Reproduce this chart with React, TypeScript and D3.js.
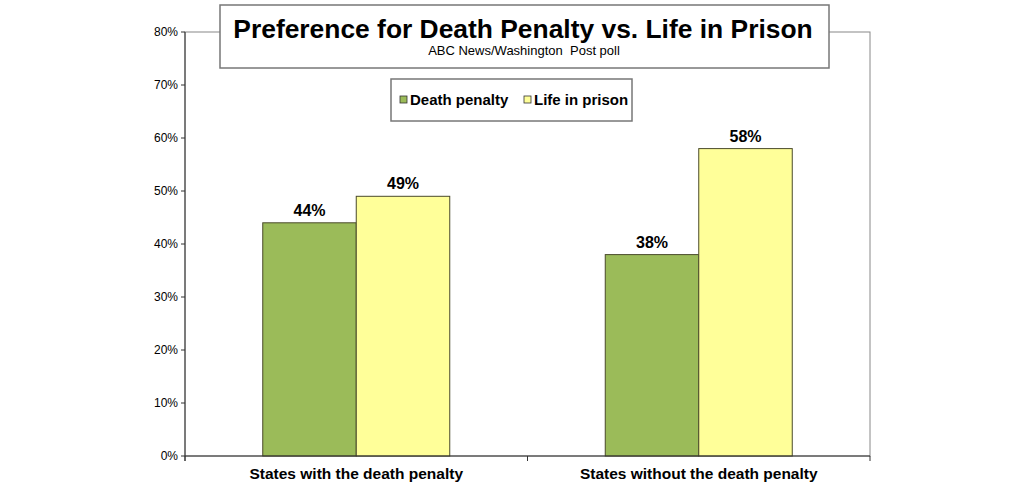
import React from "react";
import * as d3 from "d3";

const categories = ["States with the death penalty", "States without the death penalty"];
const seriesNames = ["Death penalty", "Life in prison"];
const deathPenalty = [44, 38];
const lifeInPrison = [49, 58];
const yTicks = [0, 10, 20, 30, 40, 50, 60, 70, 80];
const colors = ["#9BBB59", "#FFFF99"];

const W = 1024, H = 492;
const left = 185, right = 870, top = 32, bottom = 456;

export default function App() {
  const x = d3.scaleBand<string>().domain(categories).range([left, right]).paddingInner(0).paddingOuter(0);
  const bw = 93.5;
  const y = d3.scaleLinear().domain([0, 80]).range([bottom, top]);
  const series = [deathPenalty, lifeInPrison];
  const font = "Arial, 'Liberation Sans', sans-serif";
  return (
    <svg width={W} height={H} style={{ position: "absolute", left: 0, top: 0, background: "#fff" }} fontFamily={font}>
      <rect x={0} y={0} width={W} height={H} fill="#fff" />
      {/* plot border */}
      <rect x={left} y={top} width={right - left} height={bottom - top} fill="none" stroke="#888" strokeWidth={1} />
      {/* bars */}
      {categories.map((c, i) => {
        const cx = (x(c) as number) + x.bandwidth() / 2;
        return series.map((s, j) => {
          const bx = cx - bw + j * bw;
          return (
            <g key={c + j}>
              <rect x={bx} y={y(s[i])} width={bw} height={bottom - y(s[i])} fill={colors[j]} stroke="#4a4a2a" strokeWidth={1} />
              <text x={bx + bw / 2} y={y(s[i]) - 7} textAnchor="middle" fontSize={16} fontWeight="bold" fill="#000">{s[i]}%</text>
            </g>
          );
        });
      })}
      {/* y axis */}
      <line x1={left} x2={left} y1={top} y2={bottom + 5} stroke="#333" />
      {yTicks.map(t => (
        <g key={t}>
          <line x1={left - 4} x2={left} y1={y(t)} y2={y(t)} stroke="#333" />
          <text x={left - 7} y={y(t) + 4} textAnchor="end" fontSize={12} fill="#000">{t}%</text>
        </g>
      ))}
      {/* x axis */}
      <line x1={left} x2={right} y1={bottom} y2={bottom} stroke="#333" />
      {[left, left + x.bandwidth(), right].map((t, i) => (
        <line key={i} x1={t} x2={t} y1={bottom} y2={bottom + 5} stroke="#333" />
      ))}
      {categories.map(c => (
        <text key={c} x={(x(c) as number) + x.bandwidth() / 2} y={479} textAnchor="middle" fontSize={15.5} fontWeight="bold" fill="#000">{c}</text>
      ))}
      {/* title box */}
      <rect x={220} y={5} width={609} height={63} fill="#fff" stroke="#777" strokeWidth={1.5} />
      <text x={523} y={38} textAnchor="middle" fontSize={26.4} fontWeight="bold" fill="#000">Preference for Death Penalty vs. Life in Prison</text>
      <text x={524} y={55} textAnchor="middle" fontSize={13} fill="#000" style={{ whiteSpace: "pre" }}>ABC News/Washington  Post poll</text>
      {/* legend */}
      <rect x={391} y={79} width={241} height={42} fill="#fff" stroke="#777" strokeWidth={1.5} />
      {seriesNames.map((n, j) => {
        const lx = j === 0 ? 400 : 524;
        return (
          <g key={n}>
            <rect x={lx} y={96} width={7} height={7} fill={colors[j]} stroke="#333" strokeWidth={0.8} />
            <text x={lx + 10} y={105} fontSize={15} fontWeight="bold" fill="#000">{n}</text>
          </g>
        );
      })}
    </svg>
  );
}
